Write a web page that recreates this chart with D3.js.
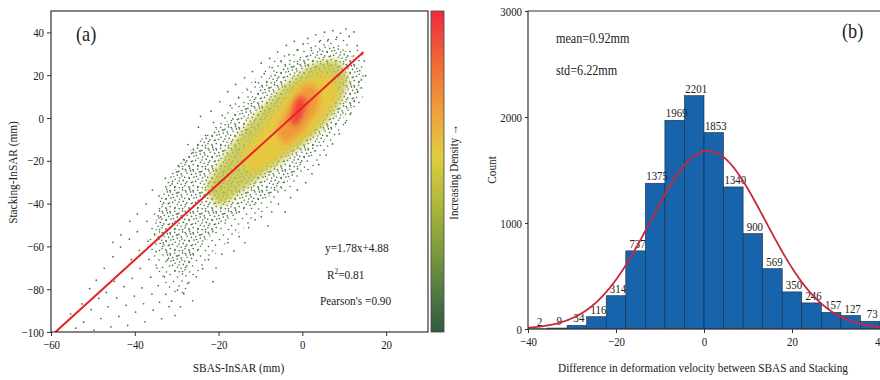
<!DOCTYPE html>
<html><head><meta charset="utf-8">
<script src="https://cdn.jsdelivr.net/npm/d3@7"></script>
<style>
body{margin:0;background:#fff}
svg{display:block}
text{font-family:"Liberation Serif","Times New Roman",serif;fill:#222}
</style>
</head><body><svg id="c" width="880" height="380"></svg>
<script>
// ---------------- DATA ----------------
// Panel (a): scatter
const scatterXTicks = [-60, -40, -20, 0, 20];
const scatterYTicks = [40, 20, 0, -20, -40, -60, -80, -100];
const scatterXDomain = [-60, 30];
const scatterYDomain = [-100, 50];
const fitSlope = 1.78, fitIntercept = 4.88;
const fitXRange = [-59, 14.6];
const annotations = ["y=1.78x+4.88", "R2=0.81", "Pearson's =0.90"];
const colorbarLabel = "Increasing Density \u2192";
// density zones (mm, mm)
const speckleOuter = [[-37,-58],[-35.5,-44],[-31,-28],[-26,-14],[-21,-3],[-16,8],[-11,19],[-6,28],[-1,33],[5,38],[10,37],[14,31],[15,22],[15,13],[13,3],[9,-7],[5,-17],[0,-28],[-6,-38],[-13,-50],[-19,-60],[-24,-71],[-28,-82],[-32,-82],[-35.5,-70]];
const speckleInner = [[-35,-52],[-33,-32],[-28,-18],[-23.5,-9],[-18.5,-2.5],[-13.6,6.5],[-8.8,17.5],[-3.9,25],[1,29.5],[5.8,34],[10.6,31],[13.5,24.5],[14,14.7],[11.8,5],[7.8,-4.5],[3.6,-14],[-0.5,-23.5],[-5.3,-33],[-10.3,-39.5],[-16.5,-46],[-21.3,-54],[-25.5,-64],[-29,-74],[-32.6,-66]];
const densityLevel1 = [[-22.8,-31.9],[-16.5,-11.7],[-10.1,3.8],[-3.7,16.3],[2.6,25],[8.2,27],[11,18.5],[8.6,5.4],[3.6,-7],[-2.2,-16.3],[-8.5,-25.7],[-14.9,-35],[-19.7,-41.2]];
const densityLevel2 = [[-14.1,-16.3],[-8.5,-2.4],[-3,11.6],[2.6,19.4],[7.4,19.4],[8.2,10],[4.2,-2.4],[-1.4,-11.7],[-7.7,-21],[-12.5,-25.7]];
const densityLevel3 = [[-6.1,-7],[-3,5.4],[0.2,14.7],[3.4,14.7],[3.8,5.4],[0.2,-5.5],[-3.7,-11.7]];
const densityLevel4 = [[-2.8,-0.8],[-1.7,7.8],[-0.3,10.2],[0.9,8],[0.2,1.5],[-1.7,-3.6]];
const sparsePoints = [
 [-55.3,-91.6],[-54.1,-98.2],[-52.6,-86.9],[-52.2,-95.4],[-50.8,-79.7],[-50.4,-89.5],[-49.7,-99.1],[-49.2,-75.8],[-48.6,-84.3],[-48.1,-93.7],[-47.3,-70.2],[-46.8,-81.5],[-46.4,-88.2],[-45.7,-97.6],[-45.2,-64.8],[-44.9,-76.3],[-44.3,-84.1],[-43.8,-92.7],[-43.4,-60.3],[-42.9,-71.4],[-42.6,-78.8],[-42.1,-87.6],[-41.7,-96.9],[-41.3,-56.6],[-40.8,-66.2],[-40.6,-74.9],[-40.1,-83.2],[-39.8,-90.7],[-39.4,-53.1],[-38.9,-61.8],[-38.7,-70.3],[-38.3,-79.4],[-37.9,-86.8],[-37.6,-95.2],[-37.1,-48.3],[-36.8,-57.6],[-36.6,-66.1],[-36.2,-74.4],[-35.9,-82.3],[-35.6,-89.8],[-35.3,-54.2],[-34.9,-62.4],[-34.7,-70.1],[-34.4,-78.3],[-34.1,-86.1],[-33.8,-46.2],[-33.6,-93.8],[-33.2,-58.3],[-32.9,-74.2],[-32.6,-82.4],[-32.2,-66.3],[-31.8,-88.1],
 [-31.2,-85.6],[-30.4,-92.3],[-29.8,-80.4],[-29.1,-88.2],[-28.3,-82.1],[-27.4,-77.3],[-26.2,-85.4],[-25.3,-74.2],[-23.8,-70.4],[-22.4,-66.2],[-21.3,-76.5],[-20.6,-70.1],[-19.2,-63.7],[-17.8,-58.2],[-16.3,-62.1],[-15.1,-55.4],[-13.7,-58.3],[-12.8,-51.2],[-11.3,-47.6],[-9.8,-46.1],[-8.2,-50.4],[-7.3,-43.8],[-5.7,-40.2],[-4.1,-43.9],[-2.8,-37.2],[-1.2,-33.6],[0.8,-30.2],[2.3,-26.1],[3.9,-21.8],[5.7,-17.3],[7.2,-12.1],[8.8,-7.4],[10.3,-2.2],[11.6,2.3],[12.4,8.1],[13.2,12.4],[14.1,17.8],[13.7,22.2],
 [-45.2,-58.1],[-43.3,-54.6],[-41.2,-48.3],[-39.4,-44.8],[-37.3,-40.2],[-35.8,-33.7],[-34.2,-36.4],[-32.7,-28.2],[-31.1,-30.8],[-29.6,-22.3],[-28.2,-19.6],[-27.3,-12.4],[-26.1,-16.2],[-24.8,-4.3],[-24.3,0.8],[-23.1,-8.2],[-21.8,3.2],[-21.2,-2.1],[-19.7,7.6],[-19.1,1.2],[-17.8,12.3],[-17.2,5.8],[-15.9,15.7],[-15.2,9.6],[-13.8,18.8],[-13.1,13.2],[-11.9,21.7],[-11.2,16.8],[-9.8,25.6],[-9.1,20.7],[-7.8,27.9],[-7.2,23.6],[-5.9,30.8],[-5.1,26.7],[-3.8,33.9],[-3.2,29.6],[-1.9,35.8],[-1.1,31.7],[0.2,34.6],[1.3,37.2],[2.1,32.8],[3.2,38.9],[4.1,35.7],[5.3,40.1],[6.2,36.6],[7.3,40.8],[8.2,37.7],[9.1,39.6],[10.4,41.6],[11.2,38.1],[12.3,40.2],[13.1,33.8],[14.2,29.7],[14.8,26.6],[15.1,19.8]
];
const colorStops = ["#2f5a3e","#4a7442","#7e9a3e","#b4bc3c","#e2cc40","#efa23a","#f27038","#ee2a3c"];

// Panel (b): histogram
const histCounts = [2, 9, 34, 116, 314, 737, 1375, 1969, 2201, 1853, 1340, 900, 569, 350, 246, 157, 127, 73];
const histRange = [-40, 40];
const histXTicks = [-40, -20, 0, 20, 40];
const histYTicks = [0, 1000, 2000, 3000];
const histYDomain = [0, 3000];
const normMean = 0.92, normSD = 13.04; // fitted normal curve as drawn
const statLabels = ["mean=0.92mm", "std=6.22mm"];

// ---------------- DRAW ----------------
const svg = d3.select("#c");
const defs = svg.append("defs");
const K = 0.87; // horizontal condensation of the lettering

// ===== Panel (a) =====
const A = {l: 51, r: 428, t: 11, b: 332};
const xL = d3.scaleLinear(scatterXDomain, [A.l, A.r]);
const yL = d3.scaleLinear(scatterYDomain, [A.b, A.t]);

defs.append("clipPath").attr("id", "clipA").append("rect")
  .attr("x", A.l).attr("y", A.t).attr("width", A.r - A.l).attr("height", A.b - A.t);
defs.append("filter").attr("id", "blur").attr("x", "-50%").attr("y", "-50%").attr("width", "200%").attr("height", "200%")
  .append("feGaussianBlur").attr("stdDeviation", 3.2);
defs.append("filter").attr("id", "blur2").attr("x", "-50%").attr("y", "-50%").attr("width", "200%").attr("height", "200%")
  .append("feGaussianBlur").attr("stdDeviation", 2.6);

// speckle patterns (texture style)
const dotCol = "#3f6b3d";
const pDense = defs.append("pattern").attr("id", "pDense").attr("patternUnits", "userSpaceOnUse")
  .attr("width", 23).attr("height", 21);
[[1.2,1.5],[5.8,0.8],[9.4,2.9],[13.7,1.2],[17.9,3.4],[21.5,0.9],[3.1,5.2],[7.6,6.4],[11.8,5.6],[16.2,7.1],[20.3,5.9],[0.7,9.3],[5.2,10.4],[9.9,9.1],[14.1,11.2],[18.6,10.0],[22.2,12.4],[2.8,13.9],[7.3,14.6],[11.6,13.4],[16.4,15.3],[20.1,16.2],[0.9,17.8],[4.9,18.9],[9.2,17.6],[13.8,19.4],[18.2,19.7],[6.5,2.9],[15.4,4.0]]
  .forEach(p => pDense.append("circle").attr("cx", p[0]).attr("cy", p[1]).attr("r", 0.8).attr("fill", dotCol));
const pLight = defs.append("pattern").attr("id", "pLight").attr("patternUnits", "userSpaceOnUse")
  .attr("width", 23).attr("height", 21);
[[2,3],[9,1.5],[16.5,4],[21,8],[5,9.5],[12.5,8.5],[18,13],[1.5,15.5],[8.5,14],[14,18.5],[21.5,19.5],[5.5,20]]
  .forEach(p => pLight.append("circle").attr("cx", p[0]).attr("cy", p[1]).attr("r", 0.8).attr("fill", dotCol));

const gA = svg.append("g").attr("clip-path", "url(#clipA)");
const closed = d3.line().x(d => xL(d[0])).y(d => yL(d[1])).curve(d3.curveCardinalClosed.tension(0.3));

gA.append("path").attr("d", closed(speckleOuter)).attr("fill", "url(#pLight)");
gA.append("path").attr("d", closed(speckleInner)).attr("fill", "url(#pDense)");

gA.selectAll("circle.sp").data(sparsePoints).join("circle").attr("class", "sp")
  .attr("cx", d => xL(d[0])).attr("cy", d => yL(d[1])).attr("r", 0.85).attr("fill", dotCol);

const levels = [
  {poly: densityLevel1, col: "#c2c040", op: 0.8, f: "url(#blur)"},
  {poly: densityLevel2, col: "#eac83e", op: 0.95, f: "url(#blur)"},
  {poly: densityLevel3, col: "#f0923a", op: 0.92, f: "url(#blur)"},
  {poly: densityLevel4, col: "#f0303a", op: 0.8, f: "url(#blur2)"}
];
levels.forEach(L => gA.append("path").attr("d", closed(L.poly)).attr("fill", L.col)
  .attr("fill-opacity", L.op).attr("filter", L.f));

// regression line
gA.append("line")
  .attr("x1", xL(fitXRange[0])).attr("y1", yL(fitSlope * fitXRange[0] + fitIntercept))
  .attr("x2", xL(fitXRange[1])).attr("y2", yL(fitSlope * fitXRange[1] + fitIntercept))
  .attr("stroke", "#e8202a").attr("stroke-width", 2);

// frame
svg.append("rect").attr("x", A.l).attr("y", A.t).attr("width", A.r - A.l).attr("height", A.b - A.t)
  .attr("fill", "none").attr("stroke", "#333").attr("stroke-width", 1.2);

// axes
const axA_x = svg.append("g").attr("transform", `translate(0,${A.b})`)
  .call(d3.axisBottom(xL).tickValues(scatterXTicks).tickSize(4).tickSizeOuter(0).tickPadding(4));
const axA_y = svg.append("g").attr("transform", `translate(${A.l},0)`)
  .call(d3.axisLeft(yL).tickValues(scatterYTicks).tickSize(4).tickSizeOuter(0).tickPadding(3));
[axA_x, axA_y].forEach(g => {
  g.select(".domain").remove();
  g.selectAll("line").attr("stroke", "#333");
  g.selectAll("text").attr("font-size", 12.5).attr("fill", "#333").attr("font-family", "Liberation Serif");
});

svg.append("text").attr("x", (A.l + A.r) / 2 - 1).attr("y", 372).attr("text-anchor", "middle")
  .attr("font-size", 13).attr("fill", "#333").text("SBAS-InSAR (mm)");
svg.append("text").attr("transform", `translate(17,${(A.t + A.b) / 2 + 1}) rotate(-90)`).attr("text-anchor", "middle")
  .attr("font-size", 13).attr("fill", "#333").text("Stacking-InSAR (mm)");
svg.append("text").attr("x", 76).attr("y", 41).attr("font-size", 21).attr("fill", "#111").text("(a)");

// annotations
svg.append("text").attr("x", 325).attr("y", 252).attr("font-size", 13).attr("fill", "#333").text(annotations[0]);
const ann2 = svg.append("text").attr("x", 327).attr("y", 279).attr("font-size", 13).attr("fill", "#333");
ann2.append("tspan").text(annotations[1].slice(0, 1));
ann2.append("tspan").attr("dy", -5).attr("font-size", 8.5).text(annotations[1].slice(1, 2));
ann2.append("tspan").attr("dy", 5).text(annotations[1].slice(2));
svg.append("text").attr("x", 320).attr("y", 305).attr("font-size", 13).attr("fill", "#333").text(annotations[2]);

// colorbar
const cb = {x: 431, w: 13, t: 11, b: 332};
const grad = defs.append("linearGradient").attr("id", "cbg").attr("x1", 0).attr("y1", 1).attr("x2", 0).attr("y2", 0);
const stopPos = [0, 0.1, 0.25, 0.42, 0.55, 0.68, 0.82, 1];
colorStops.forEach((c, i) => grad.append("stop").attr("offset", stopPos[i]).attr("stop-color", c));
svg.append("rect").attr("x", cb.x).attr("y", cb.t).attr("width", cb.w).attr("height", cb.b - cb.t)
  .attr("fill", "url(#cbg)").attr("stroke", "#444").attr("stroke-width", 0.8);
svg.append("text").attr("transform", `translate(458,172) rotate(-90)`).attr("text-anchor", "middle")
  .attr("font-size", 12.5).attr("fill", "#333").text(colorbarLabel);

// ===== Panel (b) =====
const B = {l: 528, r: 880, t: 11, b: 329};
const xR = d3.scaleLinear(histRange, [B.l, B.r]);
const yR = d3.scaleLinear(histYDomain, [B.b, B.t]);
const binW = (histRange[1] - histRange[0]) / histCounts.length;
const bins = histCounts.map((c, i) => ({x0: histRange[0] + i * binW, x1: histRange[0] + (i + 1) * binW, c}));

svg.append("g").selectAll("rect").data(bins).join("rect")
  .attr("x", d => xR(d.x0)).attr("width", d => xR(d.x1) - xR(d.x0))
  .attr("y", d => yR(d.c)).attr("height", d => yR(0) - yR(d.c))
  .attr("fill", "#1764ad").attr("stroke", "#1d2b3c").attr("stroke-width", 0.6);

svg.append("g").selectAll("text").data(bins).join("text")
  .attr("x", d => xR((d.x0 + d.x1) / 2) + 2).attr("y", d => yR(d.c) - 3)
  .attr("text-anchor", "middle").attr("font-size", 12.5).attr("fill", "#222").text(d => d.c);

// fitted normal curve
const total = d3.sum(histCounts);
const curveX = d3.range(histRange[0], histRange[1] + 0.01, 0.25);
const normLine = d3.line().x(x => xR(x))
  .y(x => yR(total * binW / (normSD * Math.sqrt(2 * Math.PI)) * Math.exp(-((x - normMean) ** 2) / (2 * normSD * normSD))));
svg.append("path").attr("d", normLine(curveX)).attr("fill", "none").attr("stroke", "#c8283c").attr("stroke-width", 1.8);

// frame
svg.append("path").attr("d", `M${B.r + 2},${B.t}H${B.l}V${B.b}H${B.r + 2}`)
  .attr("fill", "none").attr("stroke", "#333").attr("stroke-width", 1.2);

const axB_x = svg.append("g").attr("transform", `translate(0,${B.b})`)
  .call(d3.axisBottom(xR).tickValues(histXTicks).tickSize(4).tickSizeOuter(0).tickPadding(4));
const axB_y = svg.append("g").attr("transform", `translate(${B.l},0)`)
  .call(d3.axisLeft(yR).tickValues(histYTicks).tickFormat(d3.format("d")).tickSize(3).tickSizeOuter(0).tickPadding(3));
[axB_x, axB_y].forEach(g => {
  g.select(".domain").remove();
  g.selectAll("line").attr("stroke", "#333");
  g.selectAll("text").attr("font-size", 12.5).attr("fill", "#333").attr("font-family", "Liberation Serif");
});

svg.append("text").attr("x", 703).attr("y", 372).attr("text-anchor", "middle")
  .attr("font-size", 13).attr("fill", "#333").text("Difference in deformation velocity between SBAS and Stacking");
svg.append("text").attr("transform", `translate(496,170) rotate(-90)`).attr("text-anchor", "middle")
  .attr("font-size", 13).attr("fill", "#333").text("Count");
svg.append("text").attr("x", 556).attr("y", 43).attr("font-size", 14).attr("fill", "#333").text(statLabels[0]);
svg.append("text").attr("x", 556).attr("y", 75).attr("font-size", 14).attr("fill", "#333").text(statLabels[1]);
svg.append("text").attr("x", 842).attr("y", 38).attr("font-size", 21).attr("fill", "#111").text("(b)");

// condense all lettering horizontally (reference is horizontally compressed)
svg.selectAll("text").each(function () {
  const t = d3.select(this);
  const x = +t.attr("x") || 0;
  const tr = t.attr("transform") || "";
  t.attr("transform", `${tr} translate(${x},0) scale(${K},1) translate(${-x},0)`);
});
</script></body></html>
